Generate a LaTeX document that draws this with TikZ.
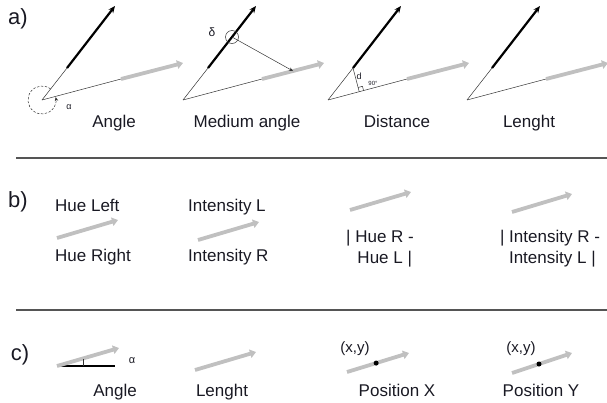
\documentclass[tikz,border=0pt]{standalone}
\usepackage{fontspec}
\setmainfont{Liberation Sans}
\usetikzlibrary{arrows.meta,calc}
\definecolor{garrow}{RGB}{192,192,192}
\definecolor{sepline}{RGB}{85,85,85}
\definecolor{txt}{RGB}{25,25,35}
\begin{document}
\begin{tikzpicture}[x=1pt,y=-1pt,
  grayarrow/.style={draw=garrow,line width=3.8pt,-{Triangle[length=6pt,width=8.5pt]}},
  blackarrow/.style={draw=black,line width=2.2pt,-{Stealth[length=7pt,width=6pt]}},
  thinline/.style={draw=black!80,line width=0.5pt},
  lbl/.style={font=\fontsize{17}{21}\selectfont,text=txt,inner sep=0pt,anchor=base},
  part/.style={font=\fontsize{22}{24}\selectfont,text=txt,inner sep=0pt},
  small/.style={font=\fontsize{9}{10}\selectfont,text=txt,inner sep=0pt},
  tiny/.style={font=\fontsize{6}{7}\selectfont,text=txt,inner sep=0pt},
  sep/.style={draw=sepline,line width=1.3pt},
  dot/.style={fill=black,circle,inner sep=0pt,minimum size=5pt}]
\useasboundingbox (0,0) rectangle (607,402);

% ---------- a) ----------
\node[part] (la) at (18,19) {a)};
\foreach \vx/\n in {42/a,183/b,328/c,467/d}{
  \coordinate (V\n) at (\vx,100);
  \coordinate (B1\n) at ($(V\n)+(25,-32)$);
  \coordinate (B2\n) at ($(V\n)+(73,-94)$);
  \coordinate (G1\n) at ($(V\n)+(79,-21)$);
  \coordinate (G2\n) at ($(V\n)+(141,-37)$);
  \draw[thinline] (V\n) -- (B1\n);
  \draw[thinline] (V\n) -- (G1\n);
  \draw[blackarrow] (B1\n) -- (B2\n);
  \draw[grayarrow] (G1\n) -- (G2\n);
}
% Angle
\draw[thinline,dash pattern=on 2.4pt off 1.6pt,-{Stealth[length=4pt,width=3.5pt]}]
  ($(Va)+(-52:14)$) arc[start angle=-52,end angle=-372,radius=14];
\node[small] (alphaA) at (69,107) {α};
% Medium angle
\coordinate (Mb) at ($(B1b)!0.5!(B2b)$);
\coordinate (Gm) at ($(G1b)!0.5!(G2b)$);
\draw[thinline] (Mb) circle[radius=6.5];
\draw[thinline,-{Stealth[length=4pt,width=3.5pt]}] (Mb) -- (Gm);
\node[small,font=\fontsize{12}{13}\selectfont] (delta) at (212,32) {δ};
% Distance
\coordinate (F) at ($(Vc)!(B1c)!(G2c)$);
\draw[thinline] (B1c) -- (F);
\coordinate (Pa) at ($(F)!4.5pt!(B1c)$);
\coordinate (Pb) at ($(F)!4.5pt!(G2c)$);
\draw[thinline] (Pa) -- ($(Pa)+(Pb)-(F)$) -- (Pb);
\node[small] (dlab) at (359,76) {d};
\node[tiny] (nin) at (373,83) {90°};
% labels
\node[lbl] (t1) at (114,127) {Angle};
\node[lbl] (t2) at (247,127) {Medium angle};
\node[lbl] (t3) at (397,127) {Distance};
\node[lbl] (t4) at (529,127) {Lenght};

\coordinate (s1a) at (16,158);
\coordinate (s1b) at (607,158);
\draw[sep] (s1a) -- (s1b);

% ---------- b) ----------
\node[part] (lb) at (18,202) {b)};
\node[lbl,anchor=base west] (hl) at (55,211) {Hue Left};
\node[lbl,anchor=base west] (hr) at (55,261) {Hue Right};
\coordinate (b1s) at (57,238); \coordinate (b1e) at (118,220);
\draw[grayarrow] (b1s) -- (b1e);
\node[lbl,anchor=base west] (il) at (188,211) {Intensity L};
\node[lbl,anchor=base west] (ir) at (188,261) {Intensity R};
\coordinate (b2s) at (198,240); \coordinate (b2e) at (259,222);
\draw[grayarrow] (b2s) -- (b2e);
\coordinate (b3s) at (350,210); \coordinate (b3e) at (411,192);
\draw[grayarrow] (b3s) -- (b3e);
\node[lbl,align=center] (hd) at (380,263) {| Hue R -\\\ \ Hue L |};
\coordinate (b4s) at (512,212); \coordinate (b4e) at (572,194);
\draw[grayarrow] (b4s) -- (b4e);
\node[lbl,align=center] (idf) at (550,263) {| Intensity R -\\\ Intensity L |};

\coordinate (s2a) at (16,310);
\coordinate (s2b) at (607,310);
\draw[sep] (s2a) -- (s2b);

% ---------- c) ----------
\node[part] (lc) at (20,355) {c)};
\coordinate (ca0) at (57,366); \coordinate (ca1) at (115,366); \coordinate (ca2) at (119,348);
\draw[draw=black,line width=1.2pt] (ca0) -- (ca1);
\draw[grayarrow] (ca0) -- (ca2);
\coordinate (tk0) at (83,366); \coordinate (tk1) at (83,358.5);
\draw[thinline] (tk0) -- (tk1);
\node[small,font=\fontsize{11}{12}\selectfont] (alphaC) at (132,361) {α};
\node[lbl] (c1) at (115,396) {Angle};
\coordinate (c2s) at (195,370); \coordinate (c2e) at (256,352);
\draw[grayarrow] (c2s) -- (c2e);
\node[lbl] (c2) at (222,396) {Lenght};
\coordinate (c3s) at (347,372); \coordinate (c3e) at (409,353);
\draw[grayarrow] (c3s) -- (c3e);
\node[dot] (d3) at ($(c3s)!0.47!(c3e)$) {};
\node[lbl,font=\fontsize{15}{17}\selectfont] (xy3) at (355,352) {(x,y)};
\node[lbl] (c3) at (397,396) {Position X};
\coordinate (c4s) at (512,373); \coordinate (c4e) at (572,353);
\draw[grayarrow] (c4s) -- (c4e);
\node[dot] (d4) at ($(c4s)!0.45!(c4e)$) {};
\node[lbl,font=\fontsize{15}{17}\selectfont] (xy4) at (521,352) {(x,y)};
\node[lbl] (c4) at (541,396) {Position Y};
\end{tikzpicture}
\end{document}
